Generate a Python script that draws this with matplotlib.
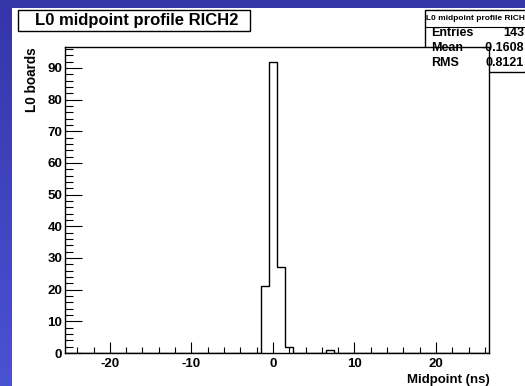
import numpy as np
import matplotlib
matplotlib.use("Agg")
import matplotlib.pyplot as plt
from matplotlib.patches import Rectangle
from matplotlib.lines import Line2D
from matplotlib.colors import LinearSegmentedColormap

plt.rcParams['font.family'] = ['Liberation Sans', 'DejaVu Sans']
plt.rcParams['font.weight'] = 'bold'
plt.rcParams['axes.unicode_minus'] = False

# Histogram content: one-ns bins, centred on integers
bin_lo, bin_hi = -25.5, 26.5
filled_centers = [-1, 0, 1, 2, 7]
filled_counts = [21, 92, 27, 2, 1]

title = "L0 midpoint profile RICH2"
stats_name = "L0 midpoint profile RICH2"
stats_rows = [("Entries", "143"), ("Mean", "-0.1608"), ("RMS", "0.8121")]
xlabel = "Midpoint (ns)"
ylabel = "L0 boards"

W, H = 525, 386
fig = plt.figure(figsize=(W / 100, H / 100), dpi=100)


def fx(px):
    return px / W


def fy(py):
    return 1 - py / H


# Canvas background: blue gradient border with white pad
bg = fig.add_axes([0, 0, 1, 1], zorder=-10)
grad = np.linspace(0, 1, 256)[:, None]
cmap = LinearSegmentedColormap.from_list("edge", ["#3535a8", "#4a52d4"])
bg.imshow(grad, aspect="auto", cmap=cmap, extent=[0, 1, 0, 1], origin="upper")
bg.add_patch(Rectangle((fx(12), 0), 1 - fx(12), fy(8), facecolor="white", edgecolor="none"))
bg.set_xlim(0, 1)
bg.set_ylim(0, 1)
bg.axis("off")

# Main frame
x0, x1, y0, y1 = 65, 489, 47, 353
ax = fig.add_axes([fx(x0), fy(y1), fx(x1) - fx(x0), fy(y0) - fy(y1)])
edges = np.arange(bin_lo, bin_hi + 0.5, 1.0)
counts = np.zeros(len(edges) - 1)
for c, n in zip(filled_centers, filled_counts):
    counts[int(round(c - bin_lo - 0.5))] = n
ax.stairs(counts, edges, color="black", linewidth=1.0)
ax.set_xlim(bin_lo, bin_hi)
ax.set_ylim(0, max(filled_counts) * 1.05)

ax.set_xticks([-20, -10, 0, 10, 20])
ax.set_xticks(np.arange(-24, 27, 2), minor=True)
ax.set_yticks(np.arange(0, 91, 10))
ax.set_yticks(np.arange(0, 97, 2), minor=True)
ax.tick_params(axis="x", which="major", direction="in", length=8, width=0.8, pad=3.5, labelsize=9.5)
ax.tick_params(axis="x", which="minor", direction="in", length=4, width=0.8)
ax.tick_params(axis="y", which="major", direction="in", length=12, width=0.8, pad=2, labelsize=9.6)
ax.tick_params(axis="y", which="minor", direction="in", length=6, width=0.8)
for lab in ax.get_xticklabels() + ax.get_yticklabels():
    lab.set_fontweight("bold")
for s in ax.spines.values():
    s.set_linewidth(1.0)

fig.text(fx(490), fy(382.5), xlabel, ha="right", va="baseline", fontsize=9.5, fontweight="bold")
fig.text(fx(31.5), fy(47), ylabel, ha="center", va="top", rotation=90, fontsize=9.8, fontweight="bold")

# Title box
bg.add_patch(Rectangle((fx(18), fy(31)), fx(250) - fx(18), fy(10) - fy(31),
                       facecolor="white", edgecolor="black", linewidth=1.0, zorder=5))
fig.text(fx(137), fy(20.5), title, ha="center", va="center", fontsize=12, fontweight="bold", zorder=6)

# Statistics box
bg.add_patch(Rectangle((fx(425), fy(72)), fx(530) - fx(425), fy(10) - fy(72),
                       facecolor="white", edgecolor="black", linewidth=1.0, zorder=5))
bg.add_artist(Line2D([fx(425), 1], [fy(27), fy(27)], color="black", linewidth=0.8, zorder=6))
fig.text(fx(426.5), fy(18), stats_name, ha="left", va="center", fontsize=6.0, fontweight="bold", zorder=6)
for i, (k, v) in enumerate(stats_rows):
    yy = fy(33 + i * 14.75)
    fig.text(fx(431), yy, k, ha="left", va="center", fontsize=9, fontweight="bold", zorder=6)
    fig.text(fx(524), yy, v, ha="right", va="center", fontsize=9, fontweight="bold", zorder=6)

fig.savefig("out.png", dpi=100)
